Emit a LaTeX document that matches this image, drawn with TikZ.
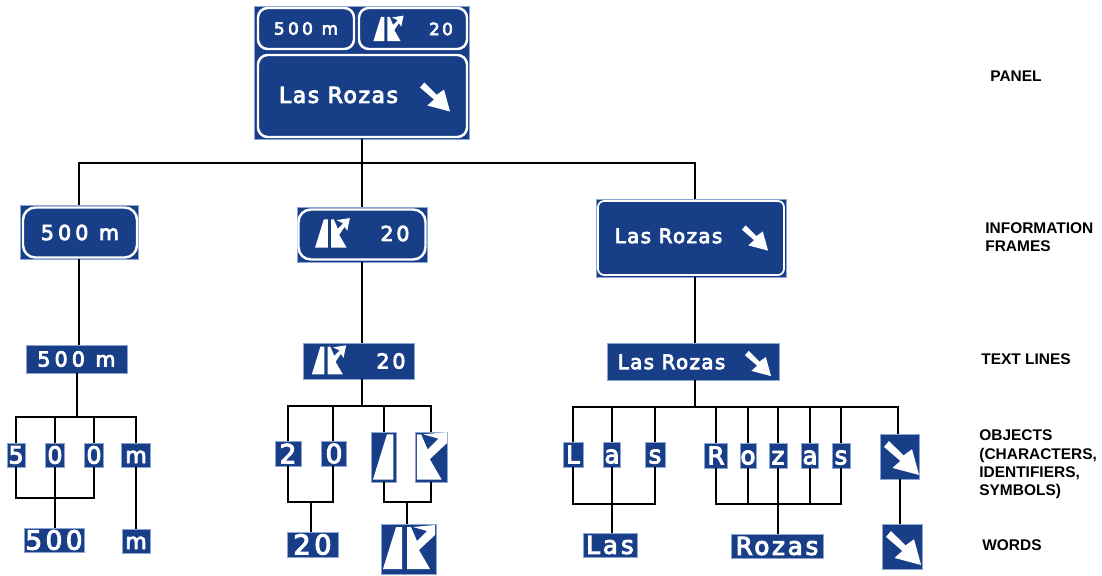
\documentclass[tikz,border=0pt]{standalone}
\usepackage{fontspec}
\usetikzlibrary{calc}
\setmainfont{Liberation Sans}
\newfontfamily\signfont{DejaVu Sans}
\newcommand{\signtext}[2]{\signfont\fontsize{#1}{#1}\selectfont\addfontfeature{LetterSpace=#2,FakeBold=4}}
\definecolor{signblue}{RGB}{24,62,136}
\definecolor{signedge}{RGB}{140,165,210}
\tikzset{box/.style 2 args={minimum width=#1*0.02cm, minimum height=#2*0.02cm}}
\tikzstyle{sign} = [rectangle, draw=signedge, fill=signblue, text=white, inner sep=0pt,
    line width=0.4pt, execute at begin node=\vphantom{L}]
\tikzstyle{frame} = [sign, draw=white, line width=1.4pt, rounded corners=5.5pt]
\tikzstyle{signlabel} = [text=white, inner sep=0pt, execute at begin node=\vphantom{L}]
\tikzstyle{level} = [anchor=west, inner sep=0pt, align=left, font=\fontsize{8.8}{10.5}\selectfont\bfseries]
\tikzstyle{line} = [draw, line width=1.14pt]
\tikzset{
  pics/arrowglyph/.style={code={
    \fill[white] (-15,-9.5) -- (-10.7,-14.5) -- (1.7,-2.2) -- (9,-7.5) -- (15,14.5) -- (-7.7,8.5) -- (-1,2.5) -- cycle;}},
  pics/leftlane/.style={code={
    \fill[white] (-26,21) -- (-13,-21) -- (-7,-21) -- (-7,21) -- cycle;}},
  % cut off by its box, as on the object and word signs
  pics/rightlane/.style={code={
    \fill[white] (-2,21) -- (-2,-21) -- (2,-21) -- (8,-7) -- (18,-17) -- (4,-21) -- (26,-23) -- (26,-13) -- (10,2) -- (21,21) -- cycle;}},
  pics/exitlane/.style={code={
    \fill[white] (-2,21) -- (-2,-21) -- (2,-21) -- (8,-7) -- (16,-15) -- (6,-20) -- (26,-23) -- (22,-4) -- (18,-10) -- (10,2) -- (21,21) -- cycle;}}
}
\begin{document}
\begin{tikzpicture}[x=0.02cm, y=-0.02cm]
    \useasboundingbox (0,0) rectangle (1102,575);
    % Place panel
    \node [sign, box={215}{133}] (panel) at (362,72.5) {};
    \node [frame, box={96}{41}, font=\signtext{9.6}{20}] (panelA) at (306,28.5) {500 m};
    \node [frame, box={108}{41}] (panelB) at (413,28.5) {};
    \node [frame, box={209}{82}] (panelC) at (362.5,96) {};
    \node [signlabel, font=\signtext{9.6}{14}] (panelBnum) at (441,29) {20};
    \node [signlabel, font=\signtext{12.5}{7}] (panelCtext) at (338.5,95) {Las Rozas};
    \pic [scale=0.58] at (388.5,29) {leftlane};
    \pic [scale=0.58] at (388.5,29) {exitlane};
    \pic at (435,97) {arrowglyph};
    % Place information frames
    \node [sign, box={118}{54}] (frameA) at (79,232) {};
    \node [frame, box={114}{50}, rounded corners=7pt, font=\signtext{11.7}{20}] (frameAin) at (80,232.5) {500 m};
    \node [sign, box={130}{55}] (frameB) at (362,234.5) {};
    \node [frame, box={127}{50}, rounded corners=7pt] (frameBin) at (362,234.5) {};
    \node [signlabel, font=\signtext{11.7}{14}] (frameBnum) at (395,233.5) {20};
    \pic [scale=0.67] at (332.5,233.5) {leftlane};
    \pic [scale=0.67] at (332.5,233.5) {exitlane};
    \node [sign, box={190}{78}] (frameC) at (691,238) {};
    \node [frame, box={186}{74}, line width=1pt, rounded corners=3.5pt] (frameCin) at (691,238) {};
    \node [signlabel, font=\signtext{11.3}{7}] (frameCtext) at (668.5,236) {Las Rozas};
    \pic [scale=0.87] at (755,238) {arrowglyph};
    % Place text lines
    \node [sign, box={101}{28}, font=\signtext{11.7}{20}] (lineA) at (76.5,359) {500 m};
    \node [sign, box={111}{36}] (lineB) at (358.5,361) {};
    \node [signlabel, font=\signtext{11.7}{14}] (lineBnum) at (391,361) {20};
    \pic [scale=0.66] at (329,360.5) {leftlane};
    \pic [scale=0.66] at (329,360.5) {exitlane};
    \node [sign, box={172}{37}] (lineC) at (693,361.5) {};
    \node [signlabel, font=\signtext{11.3}{7}] (lineCtext) at (671.5,362) {Las Rozas};
    \pic [scale=0.87] at (758,363.5) {arrowglyph};
    % Place objects
    \node [sign, box={18}{24}, font=\signtext{13.5}{0}] (oFive) at (16,455) {5};
    \node [sign, box={19}{24}, font=\signtext{13.5}{0}] (oZeroA) at (55,455) {0};
    \node [sign, box={19}{24}, font=\signtext{13.5}{0}] (oZeroB) at (94,455) {0};
    \node [sign, box={29}{24}, font=\signtext{12.5}{0}] (oM) at (136,455) {m};
    \node [sign, box={26}{25}, font=\signtext{15}{0}] (oTwo) at (288,453.5) {2};
    \node [sign, box={25}{25}, font=\signtext{15}{0}] (oZeroC) at (334,453.5) {0};
    \node [sign, box={25}{50}] (oLaneA) at (383.5,457) {};
    \node [sign, box={32}{50}] (oLaneB) at (431,457) {};
    \pic [scale=1.08] at (401,457) {leftlane};
    \pic [scale=1.08] at (419,457) {rightlane};
    \node [sign, box={20}{25}, font=\signtext{14}{0}] (oL) at (573,454.5) {L};
    \node [sign, box={17}{25}, font=\signtext{14}{0}] (oAa) at (612,454.5) {a};
    \node [sign, box={20}{25}, font=\signtext{14}{0}] (oS) at (655,454.5) {s};
    \node [sign, box={23}{25}, font=\signtext{14}{0}] (oR) at (716,455.5) {R};
    \node [sign, box={16}{25}, font=\signtext{14}{0}] (oO) at (748,455.5) {o};
    \node [sign, box={18}{25}, font=\signtext{14}{0}] (oZ) at (778,455.5) {z};
    \node [sign, box={17}{25}, font=\signtext{14}{0}] (oAb) at (810,455.5) {a};
    \node [sign, box={18}{25}, font=\signtext{14}{0}] (oSb) at (841,455.5) {s};
    \node [sign, box={39}{45}] (oArrow) at (900,456.5) {};
    \pic [scale=1.17] at (901.5,458) {arrowglyph};
    % Place words
    \node [sign, box={60}{24}, font=\signtext{15}{13}] (wFive) at (54,540) {500};
    \node [sign, box={28}{24}, font=\signtext{12.5}{0}] (wM) at (136,541) {m};
    \node [sign, box={51}{25}, font=\signtext{15.5}{13}] (wTwenty) at (312.5,544.5) {20};
    \node [sign, box={55}{50}] (wExit) at (408.5,549) {};
    \pic at (409,548) {leftlane};
    \pic at (409,548) {rightlane};
    \node [sign, box={54}{24}, font=\signtext{14}{12}] (wLas) at (610,545) {Las};
    \node [sign, box={92}{24}, font=\signtext{14}{11}] (wRozas) at (777,546) {Rozas};
    \node [sign, box={40}{45}] (wArrow) at (902,546.5) {};
    \pic [scale=1.17] at (903.5,548) {arrowglyph};
    % Place level names
    \node [level] (lPanel) at (990,76) {PANEL};
    \node [level] (lFrames) at (985,237) {INFORMATION\\FRAMES};
    \node [level] (lLines) at (981,359.5) {TEXT LINES};
    \node [level] (lObjects) at (979,464.5) {OBJECTS\\(CHARACTERS,\\IDENTIFIERS,\\SYMBOLS)};
    \node [level] (lWords) at (982,545.5) {WORDS};
    % Bus points
    \coordinate (busTop) at (362,163);
    \coordinate (busA) at (77,417);
    \coordinate (busB) at (362,406);
    \coordinate (busC) at (695,407);
    \coordinate (busAw) at (55,498);
    \coordinate (busBw) at (311,502);
    \coordinate (busBx) at (407,502);
    \coordinate (busCa) at (612,504);
    \coordinate (busCb) at (778,504);
    % Draw edges
    \path [line] (panel.south) -- (busTop);
    \path [line] (frameA.north) |- (busTop);
    \path [line] (frameB.north) -- (busTop);
    \path [line] ($(frameC.north)+(4,0)$) |- (busTop);
    \path [line] (frameA.south) -- (frameA.south |- lineA.north);
    \path [line] (frameB.south) -- (frameB.south |- lineB.north);
    \path [line] ($(frameC.south)+(4,0)$) -- ($(lineC.north)+(2,0)$);
    \path [line] (busA) -- (busA |- lineA.south);
    \path [line] (oFive.north) |- (busA);
    \path [line] (oZeroA.north) |- (busA);
    \path [line] (oZeroB.north) |- (busA);
    \path [line] (oM.north) |- (busA);
    \path [line] (oFive.south) |- (busAw);
    \path [line] (oZeroA.south) -- (oZeroA.south |- wFive.north);
    \path [line] (oZeroB.south) |- (busAw);
    \path [line] (oM.south) -- (wM.north);
    \path [line] (busB) -- (busB |- lineB.south);
    \path [line] (oTwo.north) |- (busB);
    \path [line] ($(oZeroC.north)+(-1,0)$) |- (busB);
    \path [line] (oLaneA.north) |- (busB);
    \path [line] (oLaneB.north) |- (busB);
    \path [line] (oTwo.south) |- (busBw);
    \path [line] ($(oZeroC.south)+(-1,0)$) |- (busBw);
    \path [line] (busBw) -- (busBw |- wTwenty.north);
    \path [line] (oLaneA.south) |- (busBx);
    \path [line] (oLaneB.south) |- (busBx);
    \path [line] (busBx) -- (busBx |- wExit.north);
    \path [line] (busC) -- (busC |- lineC.south);
    \path [line] (oL.north) |- (busC);
    \path [line] (oAa.north) |- (busC);
    \path [line] (oS.north) |- (busC);
    \path [line] (oR.north) |- (busC);
    \path [line] (oO.north) |- (busC);
    \path [line] (oZ.north) |- (busC);
    \path [line] (oAb.north) |- (busC);
    \path [line] (oSb.north) |- (busC);
    \path [line] ($(oArrow.north)+(-2,0)$) |- (busC);
    \path [line] (oL.south) |- (busCa);
    \path [line] (oAa.south) |- (busCa);
    \path [line] (oS.south) |- (busCa);
    \path [line] (busCa) -- (busCa |- wLas.north);
    \path [line] (oR.south) |- (busCb);
    \path [line] (oO.south) |- (busCb);
    \path [line] (oZ.south) -- (oZ.south |- wRozas.north);
    \path [line] (oAb.south) |- (busCb);
    \path [line] (oSb.south) |- (busCb);
    \path [line] (oArrow.south) -- (oArrow.south |- wArrow.north);
\end{tikzpicture}
\end{document}
